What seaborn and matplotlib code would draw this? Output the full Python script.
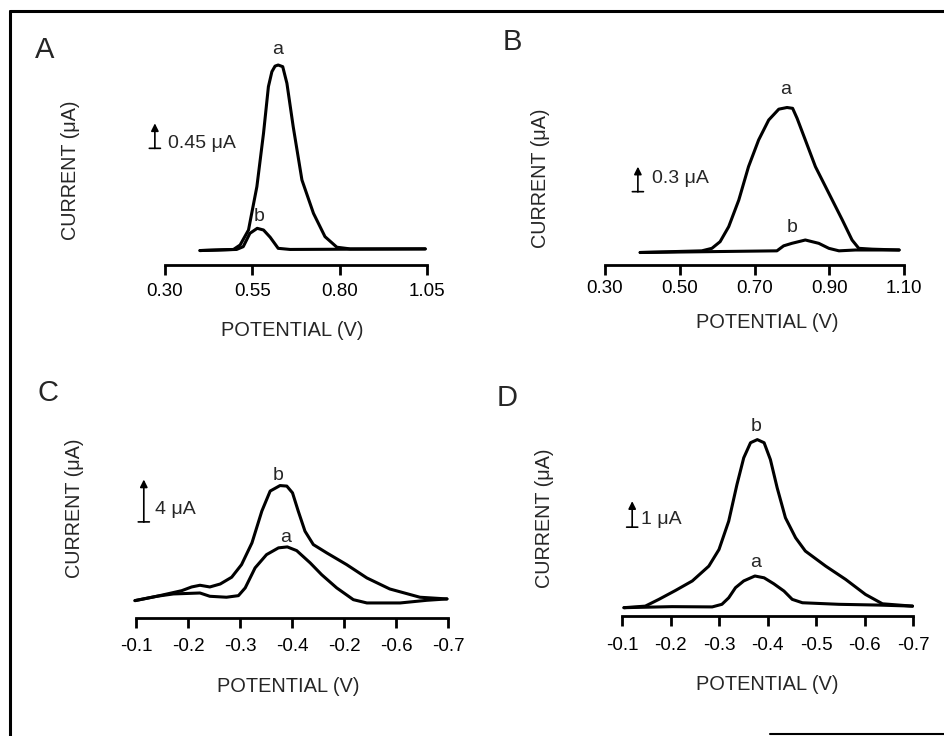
import numpy as np
import pandas as pd
import seaborn as sns
import matplotlib.pyplot as plt
from matplotlib.lines import Line2D

sns.set_style('white')
plt.rcParams['font.family'] = ['Liberation Sans', 'DejaVu Sans']

# ---- data (potential in V, current in uA) ----
a_pot = [0.400, 0.496, 0.515, 0.539, 0.563, 0.582, 0.596, 0.606, 0.615, 0.624, 0.637,
         0.649, 0.667, 0.692, 0.725, 0.758, 0.792, 0.830, 1.045]
a_cur = [0.26, 0.28, 0.36, 0.63, 1.41, 2.37, 3.21, 3.48, 3.58, 3.60, 3.57,
         3.27, 2.49, 1.53, 0.93, 0.51, 0.32, 0.29, 0.29]
a_pot_b = [0.400, 0.505, 0.524, 0.543, 0.564, 0.582, 0.601, 0.624, 0.658, 1.045]
a_cur_b = [0.26, 0.28, 0.33, 0.57, 0.66, 0.63, 0.50, 0.30, 0.28, 0.29]

b_pot = [0.394, 0.559, 0.586, 0.608, 0.631, 0.658, 0.684, 0.711, 0.738, 0.765,
         0.787, 0.802, 0.814, 0.836, 0.863, 0.899, 0.935, 0.961, 0.979, 1.015, 1.087]
b_cur = [0.15, 0.17, 0.20, 0.28, 0.46, 0.78, 1.18, 1.50, 1.74, 1.87,
         1.89, 1.88, 1.76, 1.50, 1.18, 0.86, 0.54, 0.30, 0.20, 0.19, 0.18]
b_pot_b = [0.394, 0.760, 0.778, 0.800, 0.836, 0.872, 0.899, 0.926, 0.970, 1.087]
b_cur_b = [0.15, 0.17, 0.23, 0.26, 0.30, 0.26, 0.20, 0.17, 0.18, 0.18]

c_pot_b = [-0.098, -0.140, -0.188, -0.207, -0.223, -0.242, -0.262, -0.284, -0.303, -0.323,
           -0.342, -0.358, -0.377, -0.390, -0.401, -0.412, -0.425, -0.441, -0.467, -0.505,
           -0.544, -0.588, -0.646, -0.698]
c_cur_b = [1.64, 2.05, 2.58, 2.93, 3.09, 2.93, 3.21, 3.85, 5.04, 7.09,
           10.09, 11.98, 12.50, 12.45, 11.81, 10.09, 8.19, 6.93, 6.14, 5.04,
           3.78, 2.74, 1.96, 1.80]
c_pot_a = [-0.098, -0.140, -0.172, -0.223, -0.242, -0.274, -0.297, -0.310, -0.329, -0.351,
           -0.374, -0.391, -0.409, -0.435, -0.457, -0.486, -0.518, -0.544, -0.608, -0.659, -0.698]
c_cur_a = [1.64, 2.05, 2.27, 2.36, 2.05, 1.96, 2.11, 2.84, 4.73, 5.98,
           6.62, 6.71, 6.36, 5.20, 4.09, 2.84, 1.73, 1.42, 1.42, 1.67, 1.80]

d_pot_b = [-0.104, -0.148, -0.176, -0.210, -0.245, -0.279, -0.300, -0.320, -0.337, -0.351,
           -0.365, -0.379, -0.393, -0.406, -0.420, -0.437, -0.458, -0.478, -0.520, -0.561,
           -0.602, -0.637, -0.699]
d_cur_b = [0.32, 0.38, 0.64, 0.98, 1.35, 1.92, 2.56, 3.65, 5.06, 6.09,
           6.67, 6.79, 6.67, 6.02, 4.93, 3.78, 3.01, 2.50, 1.92, 1.41,
           0.83, 0.47, 0.38]
d_pot_a = [-0.104, -0.203, -0.286, -0.306, -0.320, -0.334, -0.351, -0.374, -0.393, -0.413,
           -0.434, -0.451, -0.472, -0.547, -0.630, -0.699]
d_cur_a = [0.32, 0.36, 0.35, 0.45, 0.70, 1.09, 1.35, 1.54, 1.47, 1.24,
           0.96, 0.64, 0.51, 0.45, 0.42, 0.38]

ticks_a = [0.30, 0.55, 0.80, 1.05]
ticks_b = [0.30, 0.50, 0.70, 0.90, 1.10]
ticks_neg = [-0.1, -0.2, -0.3, -0.4, -0.5, -0.6, -0.7]
labels_c = ['-0.1', '-0.2', '-0.3', '-0.4', '-0.2', '-0.6', '-0.7']
labels_d = ['-0.1', '-0.2', '-0.3', '-0.4', '-0.5', '-0.6', '-0.7']

W, H = 944, 736
fig = plt.figure(figsize=(W / 100, H / 100), dpi=100)


def px_axes(left, top, right, bottom):
    return fig.add_axes([left / W, 1 - bottom / H, (right - left) / W, (bottom - top) / H])


def ftext(x, y, s, **kw):
    fig.text(x / W, 1 - y / H, s, **kw)


panels = [
    dict(box=(165, 40, 427, 265), xlim=(0.30, 1.05), ymax=4.05, ticks=ticks_a,
         labels=['0.30', '0.55', '0.80', '1.05'], pad=6.2,
         curves=[(a_pot, a_cur), (a_pot_b, a_cur_b)],
         bar=(0.271, 2.10, 2.55, 0.309, 2.19, '0.45 μA'),
         peaks=[(0.621, 3.87, 'a'), (0.569, 0.88, 'b')],
         letter=(45, 50, 'A'), ylab=(70, 170), xlab=(292, 330)),
    dict(box=(605, 60, 904, 265), xlim=(0.30, 1.10), ymax=2.46, ticks=ticks_b,
         labels=['0.30', '0.50', '0.70', '0.90', '1.10'], pad=4,
         curves=[(b_pot, b_cur), (b_pot_b, b_cur_b)],
         bar=(0.388, 0.88, 1.18, 0.425, 1.04, '0.3 μA'),
         peaks=[(0.783, 2.10, 'a'), (0.800, 0.45, 'b')],
         letter=(512, 42, 'B'), ylab=(540, 178), xlab=(767, 322)),
    dict(box=(136, 440, 448, 618), xlim=(-0.1, -0.7), ymax=16.8, ticks=ticks_neg,
         labels=labels_c, pad=7.6,
         curves=[(c_pot_b, c_cur_b), (c_pot_a, c_cur_a)],
         bar=(-0.115, 9.07, 13.07, -0.137, 10.24, '4 μA'),
         peaks=[(-0.374, 13.49, 'b'), (-0.388, 7.63, 'a')],
         letter=(48, 393, 'C'), ylab=(74, 508), xlab=(288, 686)),
    dict(box=(622, 410, 913, 616), xlim=(-0.1, -0.7), ymax=7.93, ticks=ticks_neg,
         labels=labels_d, pad=8.3,
         curves=[(d_pot_b, d_cur_b), (d_pot_a, d_cur_a)],
         bar=(-0.121, 3.42, 4.42, -0.140, 3.72, '1 μA'),
         peaks=[(-0.377, 7.31, 'b'), (-0.375, 2.05, 'a')],
         letter=(507, 398, 'D'), ylab=(545, 518), xlab=(767, 685)),
]

for p in panels:
    ax = px_axes(*p['box'])
    for xs, ys in p['curves']:
        df = pd.DataFrame({'potential': xs, 'current': ys})
        sns.lineplot(data=df, x='potential', y='current', ax=ax, sort=False,
                     estimator=None, color='black', lw=2.2, clip_on=False)
    ax.set_xlim(*p['xlim'])
    ax.set_ylim(0, p['ymax'])
    ax.set_xticks(p['ticks'])
    ax.set_xticklabels(p['labels'])
    ax.set_yticks([])
    ax.set_xlabel('')
    ax.set_ylabel('')
    for s in ['top', 'left', 'right']:
        ax.spines[s].set_visible(False)
    ax.spines['bottom'].set_linewidth(2.0)
    ax.spines['bottom'].set_color('black')
    ax.patch.set_alpha(0)
    ax.tick_params(axis='x', direction='out', length=7, width=2, pad=p['pad'],
                   labelsize=13.5, colors='black', bottom=True)

    # scale bar: arrow with a small foot
    bx, y0, y1, tx, ty, ts = p['bar']
    ax.annotate('', xy=(bx, y1), xytext=(bx, y0), xycoords='data',
                arrowprops=dict(arrowstyle='-|>', lw=1.2, color='black',
                                mutation_scale=11, shrinkA=0, shrinkB=0),
                annotation_clip=False)
    for dx in (-4, 4):
        ax.annotate('', xy=(bx, y0), xycoords='data', xytext=(dx, 0),
                    textcoords='offset points',
                    arrowprops=dict(arrowstyle='-', lw=1.2, color='black',
                                    shrinkA=0, shrinkB=0), annotation_clip=False)
    ax.text(tx, ty, ts, ha='left', va='center', fontsize=14, clip_on=False)

    for x, y, s in p['peaks']:
        ax.text(x, y, s, ha='center', va='center', fontsize=14, clip_on=False)

    lx, ly, ls = p['letter']
    ftext(lx, ly, ls, ha='center', va='center', fontsize=21)
    ftext(p['ylab'][0], p['ylab'][1], 'CURRENT (μA)', rotation=90,
          ha='center', va='center', fontsize=14.2)
    ftext(p['xlab'][0], p['xlab'][1], 'POTENTIAL (V)', ha='center',
          va='center', fontsize=14.4)

# frame of the scanned figure
fig.add_artist(Line2D([10 / W, 10 / W], [0, 1 - 11 / H], color='black', lw=2.2))
fig.add_artist(Line2D([10 / W, 1], [1 - 11 / H, 1 - 11 / H], color='black', lw=2.2))
fig.add_artist(Line2D([770 / W, 1], [1 - 734 / H, 1 - 734 / H], color='black', lw=1.5))

fig.savefig('out.png', dpi=100)
